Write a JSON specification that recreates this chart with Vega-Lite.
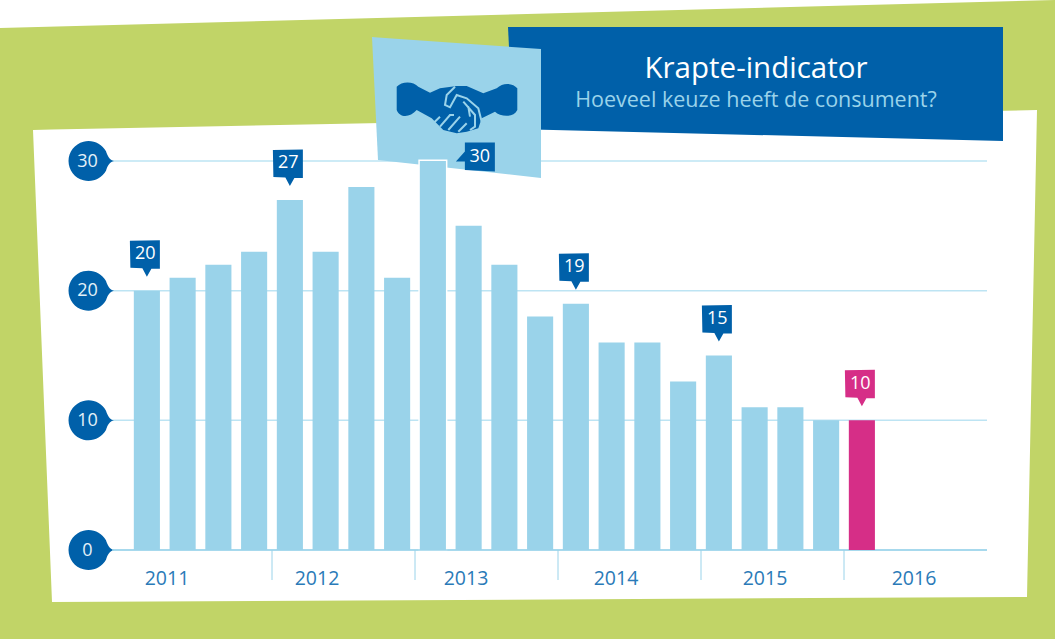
{"$schema":"https://vega.github.io/schema/vega-lite/v6.json","width":875,"height":389,"autosize":"none","padding":{"left":112,"top":161,"right":68,"bottom":89},"background":"#c1d467","config":{"view":{"stroke":null},"font":"Open Sans"},
"datasets":{
"kwartalen":[
{"kwartaal":"2011-K1","waarde":20,"reeks":"historie","callout":"boven"},{"kwartaal":"2011-K2","waarde":21,"reeks":"historie"},{"kwartaal":"2011-K3","waarde":22,"reeks":"historie"},{"kwartaal":"2011-K4","waarde":23,"reeks":"historie"},
{"kwartaal":"2012-K1","waarde":27,"reeks":"historie","callout":"boven"},{"kwartaal":"2012-K2","waarde":23,"reeks":"historie"},{"kwartaal":"2012-K3","waarde":28,"reeks":"historie"},{"kwartaal":"2012-K4","waarde":21,"reeks":"historie"},
{"kwartaal":"2013-K1","waarde":30,"reeks":"historie","callout":"rechts"},{"kwartaal":"2013-K2","waarde":25,"reeks":"historie"},{"kwartaal":"2013-K3","waarde":22,"reeks":"historie"},{"kwartaal":"2013-K4","waarde":18,"reeks":"historie"},
{"kwartaal":"2014-K1","waarde":19,"reeks":"historie","callout":"boven"},{"kwartaal":"2014-K2","waarde":16,"reeks":"historie"},{"kwartaal":"2014-K3","waarde":16,"reeks":"historie"},{"kwartaal":"2014-K4","waarde":13,"reeks":"historie"},
{"kwartaal":"2015-K1","waarde":15,"reeks":"historie","callout":"boven"},{"kwartaal":"2015-K2","waarde":11,"reeks":"historie"},{"kwartaal":"2015-K3","waarde":11,"reeks":"historie"},{"kwartaal":"2015-K4","waarde":10,"reeks":"historie"},
{"kwartaal":"2016-K1","waarde":10,"reeks":"actueel","callout":"boven"}],
"schaal":[{"v":0},{"v":10},{"v":20},{"v":30}],
"vormen":[
{"vorm":"hoek","sx":0,"sy":0,"sy2":28},{"vorm":"hoek","sx":1055,"sy":0,"sy2":0},
{"vorm":"paneel","sx":33,"sy":130,"sy2":130},{"vorm":"paneel","sx":52,"sy":129.6,"sy2":602},{"vorm":"paneel","sx":1027,"sy":110.2,"sy2":597},{"vorm":"paneel","sx":1037,"sy":110,"sy2":110},
{"vorm":"kop","sx":508,"sy":27,"sy2":27},{"vorm":"kop","sx":513,"sy":27,"sy2":129},{"vorm":"kop","sx":1003,"sy":27,"sy2":141},
{"vorm":"icoonvlak","sx":372,"sy":37,"sy2":37},{"vorm":"icoonvlak","sx":378,"sy":37.4,"sy2":160},{"vorm":"icoonvlak","sx":541,"sy":49,"sy2":178}],
"jaren":[{"jaar":"2011","sx":167},{"jaar":"2012","sx":317},{"jaar":"2013","sx":466},{"jaar":"2014","sx":616},{"jaar":"2015","sx":765},{"jaar":"2016","sx":914}],
"grenzen":[{"sx":272},{"sx":415},{"sx":558},{"sx":701},{"sx":844}],
"kop":[{"t":"Krapte-indicator","sx":756,"sy":68.5,"rol":"titel"},{"t":"Hoeveel keuze heeft de consument?","sx":756,"sy":100.5,"rol":"sub"}],
"icoon":[{"sx":456,"sy":107}]
},
"resolve":{"scale":{"x":"independent","y":"independent","color":"independent"}},
"layer":[
{"data":{"name":"vormen"},"transform":[{"filter":"datum.vorm==='hoek'"}],"mark":{"type":"area","color":"#ffffff","opacity":1},"encoding":{"x":{"field":"sx","type":"quantitative","scale":{"domain":[0,1055],"range":[-112,943]},"axis":null},"y":{"field":"sy","type":"quantitative","scale":{"domain":[0,639],"range":[-161,478]},"axis":null},"y2":{"field":"sy2"}}},
{"data":{"name":"vormen"},"transform":[{"filter":"datum.vorm==='paneel'"}],"mark":{"type":"area","color":"#ffffff","opacity":1},"encoding":{"x":{"field":"sx","type":"quantitative","scale":{"domain":[0,1055],"range":[-112,943]},"axis":null},"y":{"field":"sy","type":"quantitative","scale":{"domain":[0,639],"range":[-161,478]},"axis":null},"y2":{"field":"sy2"}}},
{"data":{"name":"vormen"},"transform":[{"filter":"datum.vorm==='kop'"}],"mark":{"type":"area","color":"#0060a9","opacity":1},"encoding":{"x":{"field":"sx","type":"quantitative","scale":{"domain":[0,1055],"range":[-112,943]},"axis":null},"y":{"field":"sy","type":"quantitative","scale":{"domain":[0,639],"range":[-161,478]},"axis":null},"y2":{"field":"sy2"}}},
{"data":{"name":"schaal"},"mark":{"type":"rule","color":"#bde4f3","strokeWidth":1.5},"encoding":{"y":{"field":"v","type":"quantitative","scale":{"domain":[0,30],"range":[389,0],"nice":false},"axis":null}}},
{"data":{"name":"vormen"},"transform":[{"filter":"datum.vorm==='icoonvlak'"}],"mark":{"type":"area","color":"#9ad3ea","opacity":1},"encoding":{"x":{"field":"sx","type":"quantitative","scale":{"domain":[0,1055],"range":[-112,943]},"axis":null},"y":{"field":"sy","type":"quantitative","scale":{"domain":[0,639],"range":[-161,478]},"axis":null},"y2":{"field":"sy2"}}},
{"data":{"name":"schaal"},"mark":{"type":"point","filled":true,"opacity":1,"color":"#0060a9","size":4,"shape":"M1.5 0 C-3 -1 -5 -5 -6.5 -9.7 A20 20 0 1 0 -6.5 9.7 C-5 5 -3 1 1.5 0Z"},"encoding":{"x":{"value":0.5},"y":{"field":"v","type":"quantitative","scale":{"domain":[0,30],"range":[389,0],"nice":false},"axis":{"orient":"left","domain":false,"ticks":false,"grid":false,"title":null,"values":[0,10,20,30],"labelPadding":25,"labelAlign":"center","labelBaseline":"middle","labelFont":"Open Sans","labelFontSize":18,"labelColor":"#e4f1f8","labelOverlap":false,"labelBound":false,"labelFlush":false,"zindex":1}}}},
{"data":{"name":"grenzen"},"transform":[{"calculate":"550","as":"boven"},{"calculate":"580","as":"onder"}],"mark":{"type":"rule","color":"#9ad3ea","strokeWidth":1},"encoding":{"x":{"field":"sx","type":"quantitative","scale":{"domain":[0,1055],"range":[-112,943]},"axis":null},"y":{"field":"boven","type":"quantitative","scale":{"domain":[0,639],"range":[-161,478]},"axis":null},"y2":{"field":"onder"}}},
{"data":{"name":"kwartalen"},"transform":[{"filter":"datum.callout==='rechts'"}],"mark":{"type":"bar","color":"#9ad3ea","stroke":"#ffffff","strokeWidth":3},"encoding":{"x":{"field":"kwartaal","type":"nominal","sort":null,"scale":{"type":"band","domain":["2011-K1","2011-K2","2011-K3","2011-K4","2012-K1","2012-K2","2012-K3","2012-K4","2013-K1","2013-K2","2013-K3","2013-K4","2014-K1","2014-K2","2014-K3","2014-K4","2015-K1","2015-K2","2015-K3","2015-K4","2016-K1","2016-K2","2016-K3","2016-K4"],"range":[17,875],"paddingInner":0.27,"paddingOuter":0.135},"axis":null},"y":{"field":"waarde","type":"quantitative","scale":{"domain":[0,30],"range":[389,0],"nice":false},"axis":null}}},
{"data":{"name":"schaal"},"transform":[{"filter":"datum.v===0"}],"mark":{"type":"rule","color":"#9ad3ea","strokeWidth":1.5},"encoding":{"y":{"field":"v","type":"quantitative","scale":{"domain":[0,30],"range":[389,0],"nice":false},"axis":null}}},
{"data":{"name":"kwartalen"},"mark":{"type":"bar"},"encoding":{"x":{"field":"kwartaal","type":"nominal","sort":null,"scale":{"type":"band","domain":["2011-K1","2011-K2","2011-K3","2011-K4","2012-K1","2012-K2","2012-K3","2012-K4","2013-K1","2013-K2","2013-K3","2013-K4","2014-K1","2014-K2","2014-K3","2014-K4","2015-K1","2015-K2","2015-K3","2015-K4","2016-K1","2016-K2","2016-K3","2016-K4"],"range":[17,875],"paddingInner":0.27,"paddingOuter":0.135},"axis":null},"y":{"field":"waarde","type":"quantitative","scale":{"domain":[0,30],"range":[389,0],"nice":false},"axis":null},"color":{"field":"reeks","type":"nominal","scale":{"domain":["historie","actueel"],"range":["#9ad3ea","#d62e87"]},"legend":null}}},
{"data":{"name":"kwartalen"},"transform":[{"filter":"datum.callout==='boven'"}],"mark":{"type":"point","filled":true,"opacity":1,"size":4,"shape":"M-17 -50 L13 -50.5 L13 -22 L4.5 -22 L0 -14 L-4.5 -22.5 L-16.5 -23Z"},"encoding":{"x":{"field":"kwartaal","type":"nominal","sort":null,"scale":{"type":"band","domain":["2011-K1","2011-K2","2011-K3","2011-K4","2012-K1","2012-K2","2012-K3","2012-K4","2013-K1","2013-K2","2013-K3","2013-K4","2014-K1","2014-K2","2014-K3","2014-K4","2015-K1","2015-K2","2015-K3","2015-K4","2016-K1","2016-K2","2016-K3","2016-K4"],"range":[17,875],"paddingInner":0.27,"paddingOuter":0.135},"axis":null},"y":{"field":"waarde","type":"quantitative","scale":{"domain":[0,30],"range":[389,0],"nice":false},"axis":null},"color":{"field":"reeks","type":"nominal","scale":{"domain":["historie","actueel"],"range":["#0060a9","#d62e87"]},"legend":null}}},
{"data":{"name":"kwartalen"},"transform":[{"filter":"datum.callout==='boven'"}],"mark":{"type":"text","color":"#ffffff","fontSize":18,"font":"Open Sans","dx":-1.5,"dy":-36.5,"baseline":"middle","align":"center"},"encoding":{"text":{"field":"waarde","type":"quantitative"},"x":{"field":"kwartaal","type":"nominal","sort":null,"scale":{"type":"band","domain":["2011-K1","2011-K2","2011-K3","2011-K4","2012-K1","2012-K2","2012-K3","2012-K4","2013-K1","2013-K2","2013-K3","2013-K4","2014-K1","2014-K2","2014-K3","2014-K4","2015-K1","2015-K2","2015-K3","2015-K4","2016-K1","2016-K2","2016-K3","2016-K4"],"range":[17,875],"paddingInner":0.27,"paddingOuter":0.135},"axis":null},"y":{"field":"waarde","type":"quantitative","scale":{"domain":[0,30],"range":[389,0],"nice":false},"axis":null}}},
{"data":{"name":"kwartalen"},"transform":[{"filter":"datum.callout==='rechts'"}],"mark":{"type":"point","filled":true,"opacity":1,"size":4,"color":"#0060a9","shape":"M32 -18.5 L62 -18.5 L62 10.5 L32 9 L32 0.5 L23 0.5 L32 -9.5Z"},"encoding":{"x":{"field":"kwartaal","type":"nominal","sort":null,"scale":{"type":"band","domain":["2011-K1","2011-K2","2011-K3","2011-K4","2012-K1","2012-K2","2012-K3","2012-K4","2013-K1","2013-K2","2013-K3","2013-K4","2014-K1","2014-K2","2014-K3","2014-K4","2015-K1","2015-K2","2015-K3","2015-K4","2016-K1","2016-K2","2016-K3","2016-K4"],"range":[17,875],"paddingInner":0.27,"paddingOuter":0.135},"axis":null},"y":{"field":"waarde","type":"quantitative","scale":{"domain":[0,30],"range":[389,0],"nice":false},"axis":null}}},
{"data":{"name":"kwartalen"},"transform":[{"filter":"datum.callout==='rechts'"}],"mark":{"type":"text","color":"#ffffff","fontSize":18,"font":"Open Sans","dx":47,"dy":-4.5,"baseline":"middle","align":"center"},"encoding":{"text":{"field":"waarde","type":"quantitative"},"x":{"field":"kwartaal","type":"nominal","sort":null,"scale":{"type":"band","domain":["2011-K1","2011-K2","2011-K3","2011-K4","2012-K1","2012-K2","2012-K3","2012-K4","2013-K1","2013-K2","2013-K3","2013-K4","2014-K1","2014-K2","2014-K3","2014-K4","2015-K1","2015-K2","2015-K3","2015-K4","2016-K1","2016-K2","2016-K3","2016-K4"],"range":[17,875],"paddingInner":0.27,"paddingOuter":0.135},"axis":null},"y":{"field":"waarde","type":"quantitative","scale":{"domain":[0,30],"range":[389,0],"nice":false},"axis":null}}},
{"data":{"name":"jaren"},"transform":[{"calculate":"579","as":"hoogte"}],"mark":{"type":"text","color":"#2a7ab8","fontSize":19.5,"font":"Open Sans","baseline":"middle","align":"center"},"encoding":{"text":{"field":"jaar","type":"nominal"},"x":{"field":"sx","type":"quantitative","scale":{"domain":[0,1055],"range":[-112,943]},"axis":null},"y":{"field":"hoogte","type":"quantitative","scale":{"domain":[0,639],"range":[-161,478]},"axis":null}}},
{"data":{"name":"kop"},"transform":[{"filter":"datum.rol==='titel'"}],"mark":{"type":"text","color":"#ffffff","fontSize":29.5,"font":"Open Sans","baseline":"middle","align":"center"},"encoding":{"text":{"field":"t","type":"nominal"},"x":{"field":"sx","type":"quantitative","scale":{"domain":[0,1055],"range":[-112,943]},"axis":null},"y":{"field":"sy","type":"quantitative","scale":{"domain":[0,639],"range":[-161,478]},"axis":null}}},
{"data":{"name":"kop"},"transform":[{"filter":"datum.rol==='sub'"}],"mark":{"type":"text","color":"#9ad3ea","fontSize":21.5,"font":"Open Sans","baseline":"middle","align":"center"},"encoding":{"text":{"field":"t","type":"nominal"},"x":{"field":"sx","type":"quantitative","scale":{"domain":[0,1055],"range":[-112,943]},"axis":null},"y":{"field":"sy","type":"quantitative","scale":{"domain":[0,639],"range":[-161,478]},"axis":null}}},
{"data":{"name":"icoon"},"mark":{"type":"point","filled":true,"opacity":1,"size":4,"color":"#0060a9","shape":"M-59.3 -20.3 C-54.3 -26 -42.7 -26 -37.7 -20.3 L-26 -14.3 L-16 -18.7 L0.7 -21 L10.7 -21 L27.3 -13.7 L40.7 -18.7 C47.3 -25.3 57.3 -23.7 61.3 -18.7 L61.3 3 C57.3 11.3 44 9.7 39 4.7 L25.7 11.3 L22.3 21.3 L10.7 24.7 L0.7 26.3 L-12.7 23 L-24.3 11.3 L-39.3 3 C-46 10.7 -56 11.3 -59.3 3Z"},"encoding":{"x":{"field":"sx","type":"quantitative","scale":{"domain":[0,1055],"range":[-112,943]},"axis":null},"y":{"field":"sy","type":"quantitative","scale":{"domain":[0,639],"range":[-161,478]},"axis":null}}},
{"data":{"name":"icoon"},"mark":{"type":"point","filled":false,"opacity":1,"size":4,"stroke":"#9ad3ea","strokeWidth":2,"shape":"M-1 -20.3 L-9.3 -12 L-11 -2 L-6 0.3 L0.7 -12 L10.7 -8.7 L22.3 1.3 L25.7 14.7 M7.3 -5.3 L19 8 L19 19.7 L14 23 M12.3 -0.3 L14 9.7 M-22.7 16.3 L-16 9.7 M-16 19.7 L-6 8 L-2 8 M-7.7 23 L4 9.7 M2.3 24.7 L10.7 16.3"},"encoding":{"x":{"field":"sx","type":"quantitative","scale":{"domain":[0,1055],"range":[-112,943]},"axis":null},"y":{"field":"sy","type":"quantitative","scale":{"domain":[0,639],"range":[-161,478]},"axis":null}}}
]}
